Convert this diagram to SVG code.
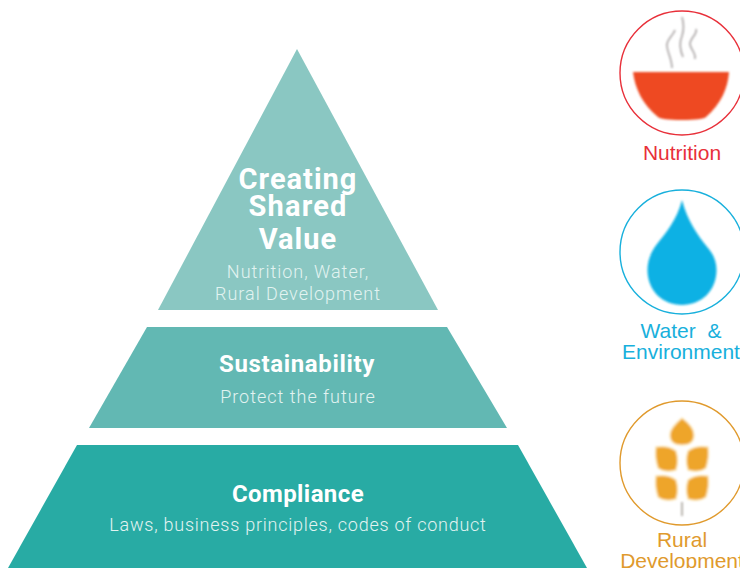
<svg xmlns="http://www.w3.org/2000/svg" width="740" height="568" viewBox="0 0 740 568">
<style>
.h{font-family:"Roboto","Liberation Sans",sans-serif;font-weight:700;fill:#fff;text-anchor:middle}
.s{font-family:"Roboto","Liberation Sans",sans-serif;font-weight:300;fill:#e2f3f1;text-anchor:middle;font-size:18px;letter-spacing:1px}
.l{font-family:"Liberation Sans",Arial,sans-serif;font-size:21px;text-anchor:middle}
.c{fill:#fff;stroke-width:1.4}
.g{fill:#eea52c;stroke:#fbe6b8;stroke-width:1.5}
</style>
<defs>
<filter id="b" x="-10%" y="-10%" width="120%" height="120%"><feGaussianBlur stdDeviation="0.9"/></filter>
<path id="grain" d="M-11-12C-4-13 4-12 9-8C11-2 11 5 9 11C2 13-5 12-9 9C-11 3-12-6-11-12Z"/>
</defs>
<rect width="740" height="568" fill="#fff"/>
<g id="tier-creating-shared-value">
<polygon points="297,49 438,310 158,310" fill="#8ac7c2"/>
<text class="h" x="298" y="189" font-size="29" letter-spacing="1">Creating</text>
<text class="h" x="298" y="216" font-size="29" letter-spacing="1.2">Shared</text>
<text class="h" x="298" y="249" font-size="29" letter-spacing="1">Value</text>
<text class="s" x="298" y="278">Nutrition, Water,</text>
<text class="s" x="298" y="300">Rural Development</text>
</g>
<g id="tier-sustainability">
<polygon points="147,327 447,327 507,428 89,428" fill="#62b8b3"/>
<text class="h" x="297" y="372" font-size="24" letter-spacing=".65">Sustainability</text>
<text class="s" x="298" y="403">Protect the future</text>
</g>
<g id="tier-compliance">
<polygon points="77,445 518,445 587,568 8,568" fill="#28aba4"/>
<text class="h" x="298" y="502" font-size="24" letter-spacing=".4">Compliance</text>
<text class="s" x="298" y="531" style="letter-spacing:.75px">Laws, business principles, codes of conduct</text>
</g>
<g id="nutrition">
<circle class="c" cx="682" cy="73" r="62" stroke="#e8303a"/>
<g filter="url(#b)">
<path d="M633 72H729C728 88 721 104 706 117Q703 120 682 120Q661 120 658 117C642 104 635 88 633 72Z" fill="#ee4a22"/>
<g fill="none" stroke="#a9a4a4" stroke-width="1.6">
<path d="M672 68C672 58 666 50 667 44C668 38 673 36 675 30"/>
<path d="M682 17C684 24 684 30 682 36C679 43 680 50 683 57"/>
<path d="M696 29C698 34 690 38 690 44C690 49 696 52 695 59"/>
</g>
</g>
<text class="l" x="682" y="160" fill="#e8303a" font-size="22.500">Nutrition</text>
</g>
<g id="water">
<circle class="c" cx="682" cy="252" r="62" stroke="#18b0dc"/>
<path d="M682 200C677 220 665 234 657 244C650 253 647.500 262 647.500 270C647.500 291 663 305 682 305C701 305 716.500 291 716.500 270C716.500 262 714 255 708 248C698 236 687 220 682 200Z" fill="#0db1e4" filter="url(#b)"/>
<text class="l" x="681" y="338" fill="#18b0dc" xml:space="preserve">Water  &amp;</text>
<text class="l" x="681" y="359" fill="#18b0dc">Environment</text>
</g>
<g id="rural">
<circle class="c" cx="682" cy="463" r="62" stroke="#e09a2d"/>
<g filter="url(#b)">
<path d="M682 502V516" stroke="#b9b5ae" stroke-width="2"/>
<path class="g" d="M682 418C690 424 694 429 694 435C694 442 689 445 682 445C675 445 670 442 670 435C670 429 675 424 682 418Z"/>
<use href="#grain" class="g" x="667" y="459"/>
<use href="#grain" class="g" x="667" y="488"/>
<use href="#grain" class="g" transform="translate(697 459) scale(-1 1)"/>
<use href="#grain" class="g" transform="translate(697 488) scale(-1 1)"/>
</g>
<text class="l" x="682" y="547" fill="#e09a2d" font-size="22.500">Rural</text>
<text class="l" x="682" y="568" fill="#e09a2d" font-size="22.500">Development</text>
</g>
</svg>
